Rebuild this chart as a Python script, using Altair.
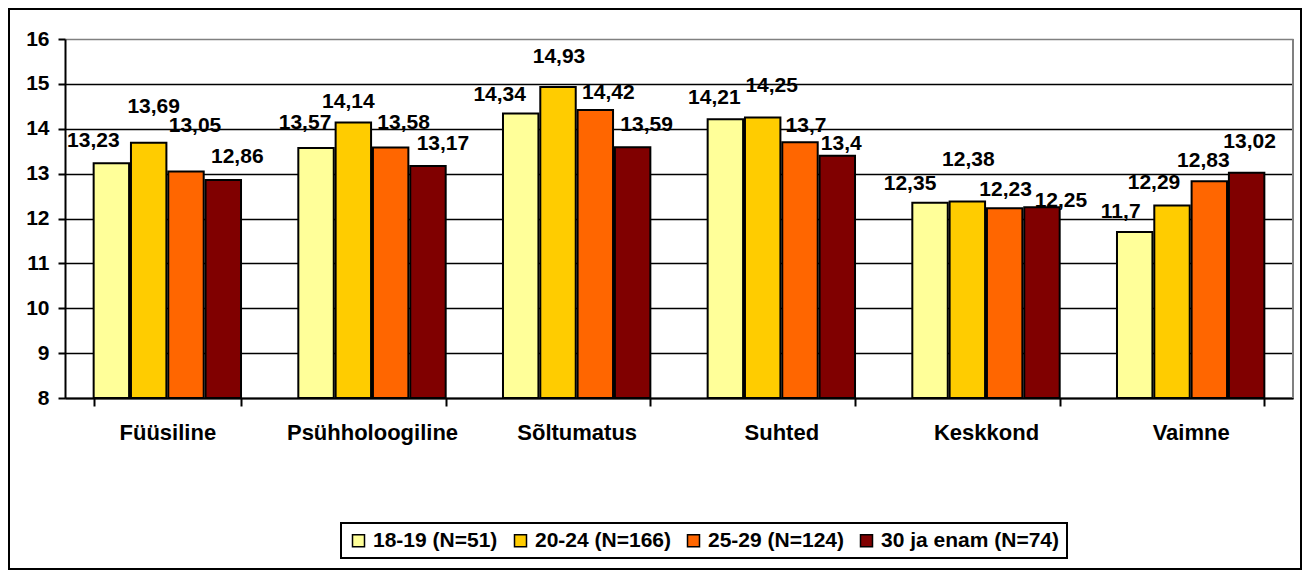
import altair as alt
import pandas as pd

categories = ["Füüsiline", "Psühholoogiline", "Sõltumatus", "Suhted", "Keskkond", "Vaimne"]
series_names = ["18-19 (N=51)", "20-24 (N=166)", "25-29 (N=124)", "30 ja enam (N=74)"]
s_18_19 = [13.23, 13.57, 14.34, 14.21, 12.35, 11.7]
s_20_24 = [13.69, 14.14, 14.93, 14.25, 12.38, 12.29]
s_25_29 = [13.05, 13.58, 14.42, 13.7, 12.23, 12.83]
s_30 = [12.86, 13.17, 13.59, 13.4, 12.25, 13.02]
y_ticks = [8, 9, 10, 11, 12, 13, 14, 15, 16]

colors = ["#FFFF99", "#FFCC00", "#FF6600", "#800000"]
# label nudges in pixels (style only), per series, per category
label_dx = [[-18, -11, -21, -11, -20, -14],
            [5, -5, 1, 9, 1, -18],
            [9, 13, 13, 6, 1, -6],
            [14, 15, 14, 4, 19, 3]]
label_dy = [[-16, -19, -12, -15, -13, -14],
            [-30, -14, -24, -26, -35, -16],
            [-39, -19, -11, -10, -12, -14],
            [-17, -16, -16, -6, 0, -25]]

rows = []
for name, vals in zip(series_names, [s_18_19, s_20_24, s_25_29, s_30]):
    for c, v in zip(categories, vals):
        rows.append({"cat": c, "series": name, "value": v,
                     "label": f"{v:g}".replace(".", ",")})
df = pd.DataFrame(rows)

FONT = "Liberation Sans"

x_enc = alt.X("cat:N", sort=categories,
              scale=alt.Scale(domain=categories, paddingInner=0.28, paddingOuter=0.14),
              axis=alt.Axis(title=None, labelAngle=0, labelFontSize=22, labelFontWeight="bold",
                            labelColor="black", labelFont=FONT, tickBand="extent", tickSize=8,
                            tickWidth=2, tickColor="black", domainColor="black", domainWidth=2,
                            labelPadding=16, grid=False))
y_enc = alt.Y("value:Q",
              scale=alt.Scale(domain=[8, 16], zero=False, nice=False),
              axis=alt.Axis(title=None, values=y_ticks, labelFontSize=21, labelFontWeight="bold",
                            labelColor="black", labelFont=FONT, tickSize=7, tickWidth=2,
                            tickColor="black", domainColor="black", domainWidth=2,
                            labelPadding=9, grid=True, gridWidth=1.5,
                            gridColor=alt.condition("datum.value == 16", alt.value("#808080"),
                                                    alt.value("black"))))
xo_enc = alt.XOffset("series:N", sort=series_names,
                     scale=alt.Scale(domain=series_names, paddingInner=0.05))

base = alt.Chart(df)

frame_df = pd.DataFrame({"k": [0]})
frame = alt.Chart(frame_df).mark_rect(fillOpacity=0, stroke="black", strokeWidth=2).encode(
    x=alt.value(-56), x2=alt.value(1236), y=alt.value(-30), y2=alt.value(530))
right_border = alt.Chart(frame_df).mark_rule(color="#808080", strokeWidth=2).encode(
    x=alt.value(1228), y=alt.value(0), y2=alt.value(359))

bars = base.mark_bar(stroke="black", strokeWidth=2).encode(
    x=x_enc, xOffset=xo_enc, y=y_enc, y2=alt.datum(8),
    color=alt.Color("series:N", sort=series_names,
                    scale=alt.Scale(domain=series_names, range=colors),
                    legend=alt.Legend(title=None, orient="none", legendX=276, legendY=484,
                                      direction="horizontal", columns=4, symbolType="square",
                                      symbolSize=144, symbolStrokeColor="black",
                                      symbolStrokeWidth=1.5, labelFontSize=21,
                                      labelFontWeight="bold", labelColor="black", labelFont=FONT,
                                      labelOffset=4, columnPadding=12, padding=7, labelLimit=400,
                                      strokeColor="black", fillColor="white")))

texts = []
for i, name in enumerate(series_names):
    for j, c in enumerate(categories):
        texts.append(
            base.transform_filter((alt.datum.series == name) & (alt.datum.cat == c))
            .mark_text(dx=label_dx[i][j], dy=label_dy[i][j], baseline="alphabetic",
                       fontSize=21, fontWeight="bold", color="black", font=FONT)
            .encode(x=x_enc, xOffset=xo_enc, y=y_enc, text="label:N")
        )

chart = alt.layer(frame, bars, *texts, right_border).properties(
    width=1228, height=359,
    autosize=alt.AutoSizeParams(type="none"),
    padding={"left": 57, "top": 31, "right": 9, "bottom": 172},
).configure_view(strokeWidth=0).configure(font=FONT).configure_legend(strokeWidth=2)

chart.save("out.html", embed_options={"renderer": "svg", "actions": False})
